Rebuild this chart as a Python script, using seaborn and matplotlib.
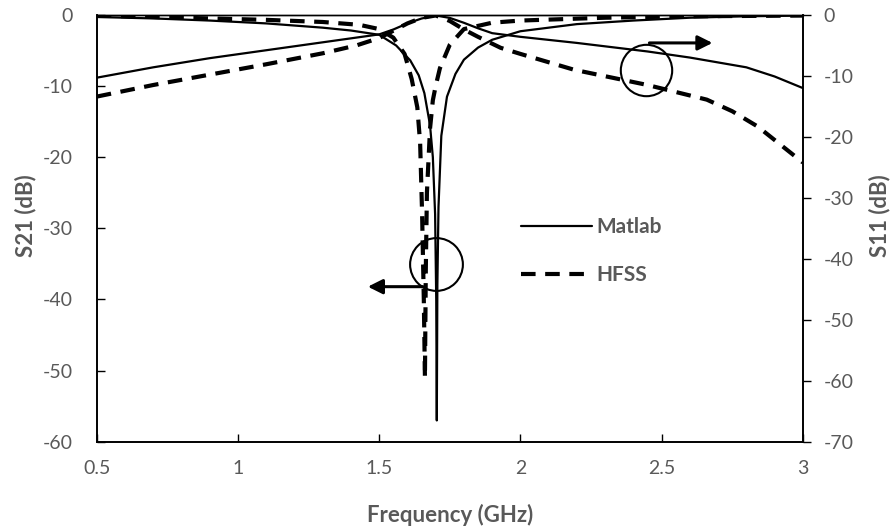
import matplotlib
matplotlib.use("Agg")
import matplotlib.pyplot as plt
import seaborn as sns

# S21 (left axis)
freq_s21_matlab = [0.5, 0.7, 0.9, 1.1, 1.3, 1.4, 1.5, 1.56, 1.61, 1.64, 1.66, 1.68, 1.69,
                   1.698, 1.702, 1.704, 1.706, 1.71, 1.72, 1.74, 1.77, 1.8, 1.85, 1.9,
                   2.0, 2.2, 2.4, 2.6, 2.8, 3.0]
s21_matlab = [-0.3, -0.5, -0.8, -1.2, -1.8, -2.2, -2.8, -4.3, -6.4, -8.5, -11.0, -15.5, -20.0,
              -28.0, -40.0, -57.0, -38.0, -27.0, -17.0, -11.5, -8.3, -6.3, -4.6, -3.5,
              -2.3, -1.3, -0.8, -0.4, -0.2, -0.1]

freq_s21_hfss = [0.5, 0.8, 1.1, 1.3, 1.43, 1.5, 1.55, 1.59, 1.615, 1.635, 1.645, 1.652,
                 1.658, 1.662, 1.665, 1.669, 1.68, 1.69, 1.70, 1.715, 1.75, 1.8, 1.9,
                 2.0, 2.3, 2.6, 3.0]
s21_hfss = [-0.1, -0.4, -0.7, -1.0, -1.4, -2.0, -3.2, -5.5, -9.0, -13.0, -18.0, -28.0,
            -40.0, -51.0, -36.0, -25.0, -16.0, -12.0, -10.0, -7.5, -4.2, -2.0, -1.1,
            -0.8, -0.4, -0.2, -0.1]

# S11 (right axis)
freq_s11_matlab = [0.5, 0.7, 0.9, 1.1, 1.3, 1.5, 1.55, 1.6, 1.65, 1.7, 1.75, 1.8, 1.85,
                   1.9, 2.0, 2.2, 2.45, 2.6, 2.8, 2.9, 3.0]
s11_matlab = [-10.3, -8.6, -7.1, -5.8, -4.5, -3.2, -2.4, -1.4, -0.6, -0.1, -0.5, -1.3, -2.2,
              -3.0, -3.6, -4.6, -6.0, -7.0, -8.6, -10.1, -12.0]

freq_s11_hfss = [0.5, 0.7, 0.9, 1.1, 1.3, 1.42, 1.5, 1.55, 1.6, 1.65, 1.7, 1.75, 1.8, 1.85,
                 1.93, 2.0, 2.19, 2.45, 2.66, 2.75, 2.84, 3.0]
s11_hfss = [-13.4, -11.5, -9.8, -8.1, -6.3, -5.0, -3.8, -2.6, -1.4, -0.5, -0.1, -1.0, -2.4,
            -3.6, -5.4, -6.4, -9.0, -11.5, -13.9, -15.8, -18.3, -24.2]

x_ticks = [0.5, 1, 1.5, 2, 2.5, 3]
x_tick_labels = ["0.5", "1", "1.5", "2", "2.5", "3"]
left_ticks = [0, -10, -20, -30, -40, -50, -60]
right_ticks = [0, -10, -20, -30, -40, -50, -60, -70]

GRAY = "#595959"
DASH = (0, (3.5, 2.3))

sns.set_style("white")
plt.rcParams["font.family"] = ["Lato", "DejaVu Sans"]
plt.rcParams["axes.unicode_minus"] = False

fig = plt.figure(figsize=(8.96, 5.31), dpi=100)
ax = fig.add_axes([0.108, 0.168, 0.788, 0.804])
ax2 = ax.twinx()

sns.lineplot(x=freq_s21_matlab, y=s21_matlab, ax=ax, color="black", lw=1.6,
             estimator=None, label="Matlab")
sns.lineplot(x=freq_s21_hfss, y=s21_hfss, ax=ax, color="black", lw=3,
             linestyle=DASH, estimator=None, label="HFSS")
sns.lineplot(x=freq_s11_matlab, y=s11_matlab, ax=ax2, color="black", lw=1.6,
             estimator=None, legend=False)
sns.lineplot(x=freq_s11_hfss, y=s11_hfss, ax=ax2, color="black", lw=3,
             linestyle=DASH, estimator=None, legend=False)

ax.set_xlim(0.5, 3)
ax.set_ylim(-60, 0)
ax2.set_ylim(-70, 0)

ax.set_xticks(x_ticks)
ax.set_xticklabels(x_tick_labels)
ax.set_yticks(left_ticks)
ax2.set_yticks(right_ticks)

ax.tick_params(axis="x", direction="in", length=6, width=1, colors="black",
               labelcolor=GRAY, labelsize=14, pad=13, bottom=True)
ax.tick_params(axis="y", direction="in", length=6, width=1, colors="black",
               labelcolor=GRAY, labelsize=14, pad=17, left=True)
ax2.tick_params(axis="y", direction="out", length=6, width=1, colors="black",
                labelcolor=GRAY, labelsize=14, pad=9, right=True)

for a in (ax, ax2):
    for side in ("left", "right", "bottom"):
        a.spines[side].set_color("black")
        a.spines[side].set_linewidth(1.2)
    a.spines["top"].set_color("black")
    a.spines["top"].set_linewidth(1.0)

ax.set_xlabel("Frequency (GHz)", color=GRAY, fontsize=16, fontweight="bold")
ax.set_ylabel("S21 (dB)", color=GRAY, fontsize=16, fontweight="bold")
ax2.set_ylabel("S11 (dB)", color=GRAY, fontsize=16, fontweight="bold")
ax.xaxis.set_label_coords(0.5, -0.145)
ax.yaxis.set_label_coords(-0.085, 0.53)
ax2.yaxis.set_label_coords(1.093, 0.53)

# annotations: circles with arrows pointing to the relevant axis
ax.plot([1.70], [-35.0], marker="o", ms=38, mfc="none", mec="black", mew=1.5)
ax.annotate("", xy=(1.45, -38.2), xytext=(1.665, -38.2),
            arrowprops=dict(arrowstyle="-|>", lw=2.2, color="black", mutation_scale=22))
ax2.plot([2.444], [-9.0], marker="o", ms=37, mfc="none", mec="black", mew=1.5)
ax2.annotate("", xy=(2.69, -4.6), xytext=(2.447, -4.6),
             arrowprops=dict(arrowstyle="-|>", lw=2.2, color="black", mutation_scale=22))

leg = ax.legend(loc="upper left", bbox_to_anchor=(0.575, 0.57), frameon=False,
                handlelength=3.4, handletextpad=0.2, labelspacing=1.35, fontsize=15)
for text in leg.get_texts():
    text.set_color(GRAY)
    text.set_fontweight("bold")

fig.savefig("out.png", dpi=100)
